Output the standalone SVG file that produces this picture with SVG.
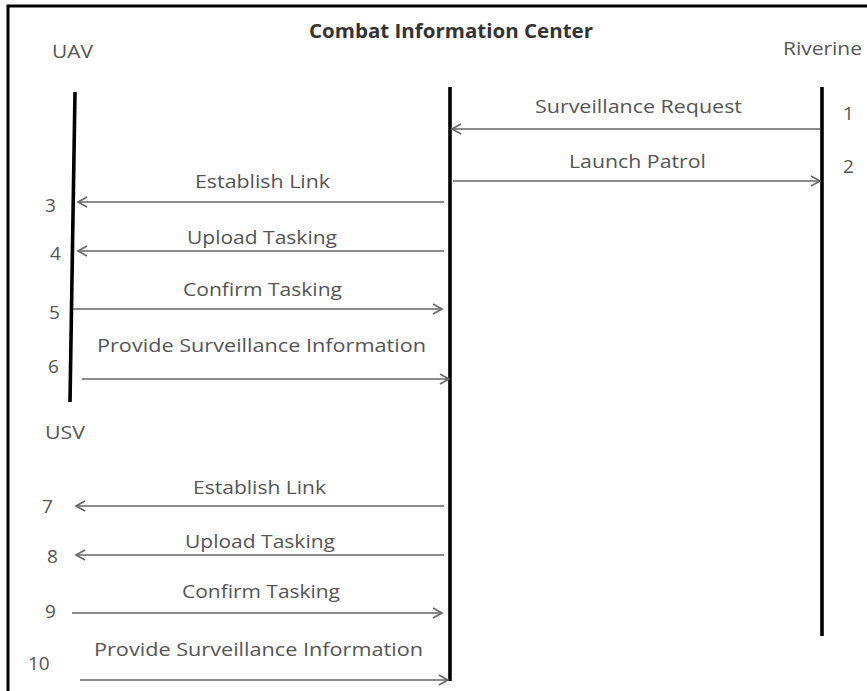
<svg xmlns="http://www.w3.org/2000/svg" width="867" height="691" viewBox="0 0 867 691">
<defs>
<marker id="open" markerUnits="userSpaceOnUse" markerWidth="12" markerHeight="12" refX="10" refY="6" orient="auto" overflow="visible">
<path d="M1,1 L10,6 L1,11" fill="none" stroke="#666" stroke-width="1.6"/>
</marker>
<style>
.lbl{font-family:"Open Sans","Liberation Sans",sans-serif;font-size:19px;fill:#555}
.num{font-family:"Open Sans","Liberation Sans",sans-serif;font-size:19px;fill:#555}
.title{font-family:"Open Sans","Liberation Sans",sans-serif;font-size:20px;font-weight:bold;fill:#333}
.life{stroke:#000;stroke-width:3.6;stroke-linecap:butt}
.msg{stroke:#666;stroke-width:1.6;fill:none;marker-end:url(#open)}
</style>
</defs>
<rect x="0" y="0" width="867" height="691" fill="#fff"/>
<rect x="8" y="6" width="900" height="720" fill="none" stroke="#000" stroke-width="3"/>

<g id="cic">
<text class="title" x="309" y="38" textLength="284" lengthAdjust="spacingAndGlyphs">Combat Information Center</text>
<line class="life" x1="450" y1="87" x2="450" y2="681"/>
</g>
<g id="uav">
<text class="lbl" x="52" y="58" textLength="41" lengthAdjust="spacingAndGlyphs">UAV</text>
<line class="life" x1="75" y1="92" x2="70" y2="402"/>
</g>
<g id="usv">
<text class="lbl" x="45" y="439" textLength="40" lengthAdjust="spacingAndGlyphs">USV</text>
</g>
<g id="riverine">
<text class="lbl" x="783" y="55" textLength="79" lengthAdjust="spacingAndGlyphs">Riverine</text>
<line class="life" x1="822" y1="87" x2="822" y2="636"/>
</g>

<g id="connectors">
<line class="msg" x1="820" y1="129" x2="452" y2="129"/>
<line class="msg" x1="453" y1="181" x2="820" y2="181"/>
<line class="msg" x1="444" y1="202" x2="78" y2="202"/>
<line class="msg" x1="444" y1="251" x2="78" y2="251"/>
<line class="msg" x1="73" y1="309" x2="442" y2="309"/>
<line class="msg" x1="82" y1="379" x2="449" y2="379"/>
<line class="msg" x1="444" y1="506" x2="76" y2="506"/>
<line class="msg" x1="444" y1="555" x2="76" y2="555"/>
<line class="msg" x1="72" y1="613" x2="442" y2="613"/>
<line class="msg" x1="80" y1="680" x2="448" y2="680"/>
</g>

<g id="labels">
<text class="lbl" x="535" y="113" textLength="207" lengthAdjust="spacingAndGlyphs">Surveillance Request</text>
<text class="lbl" x="569" y="168" textLength="137" lengthAdjust="spacingAndGlyphs">Launch Patrol</text>
<text class="lbl" x="195" y="188" textLength="135" lengthAdjust="spacingAndGlyphs">Establish Link</text>
<text class="lbl" x="187" y="244" textLength="150" lengthAdjust="spacingAndGlyphs">Upload Tasking</text>
<text class="lbl" x="183" y="296" textLength="159" lengthAdjust="spacingAndGlyphs">Confirm Tasking</text>
<text class="lbl" x="97" y="352" textLength="329" lengthAdjust="spacingAndGlyphs">Provide Surveillance Information</text>
<text class="lbl" x="193" y="494" textLength="133" lengthAdjust="spacingAndGlyphs">Establish Link</text>
<text class="lbl" x="185" y="548" textLength="150" lengthAdjust="spacingAndGlyphs">Upload Tasking</text>
<text class="lbl" x="182" y="598" textLength="158" lengthAdjust="spacingAndGlyphs">Confirm Tasking</text>
<text class="lbl" x="94" y="656" textLength="329" lengthAdjust="spacingAndGlyphs">Provide Surveillance Information</text>
</g>

<g id="numbers">
<text class="num" x="843" y="120">1</text>
<text class="num" x="843" y="173">2</text>
<text class="num" x="45" y="212">3</text>
<text class="num" x="50" y="260">4</text>
<text class="num" x="49" y="319">5</text>
<text class="num" x="48" y="373">6</text>
<text class="num" x="42" y="513">7</text>
<text class="num" x="47" y="563">8</text>
<text class="num" x="45" y="618">9</text>
<text class="num" x="28" y="670">10</text>
</g>
</svg>
